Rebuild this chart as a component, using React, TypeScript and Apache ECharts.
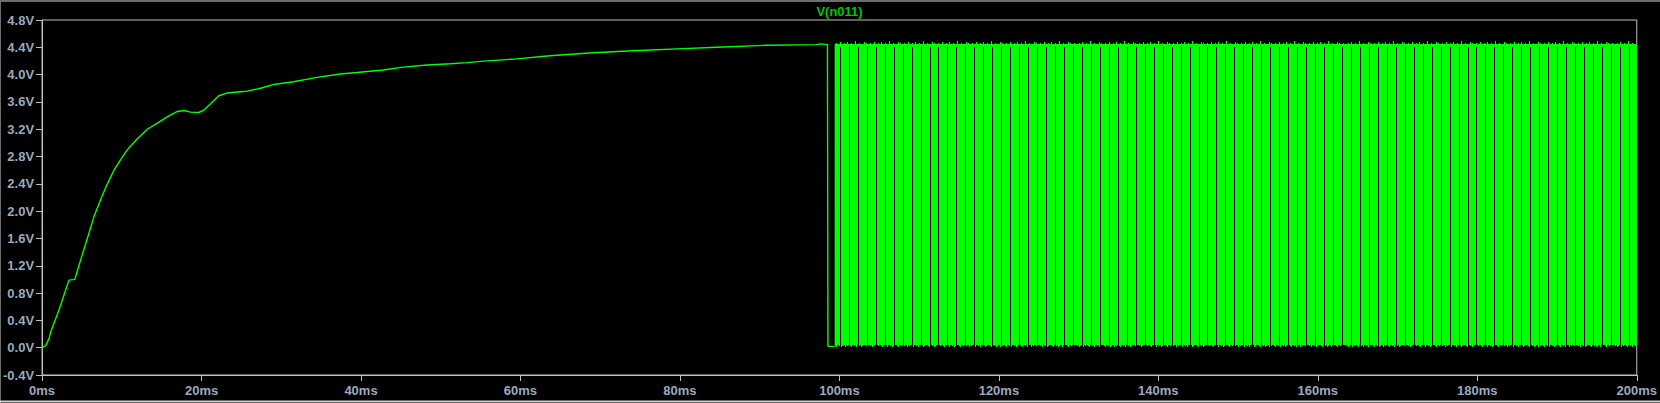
import React, { useEffect, useRef } from "react";
import * as echarts from "echarts";

// ---- data (time in ms, voltage in V) ----
const rampTime = [
  0, 0.46, 0.9, 1.09, 2.13, 2.97, 3.38, 4.1, 4.85, 5.89, 6.51, 7.35, 8.19, 9.02, 9.86, 10.4, 10.9,
  11.95, 13.2, 14.45, 15.7, 16.96, 17.8, 18.6, 19.66, 20.3, 21.1, 22.17, 23.2, 24.9, 25.7,
  27.4, 29.05, 31.55, 34.5, 37.4, 39.5, 42.8, 45.3, 48.3, 51.2, 53.3, 55.35, 59.5, 63.7,
  69.1, 74.1, 80.4, 84.6, 90.8, 97.1, 97.7, 98.5, 98.56, 99.4,
];
const rampVolts = [
  0.0, 0.03, 0.14, 0.235, 0.554, 0.85, 0.99, 1.0, 1.29, 1.68, 1.92, 2.17, 2.4, 2.6, 2.755, 2.85, 2.93,
  3.06, 3.2, 3.29, 3.38, 3.46, 3.475, 3.45, 3.445, 3.48, 3.57, 3.69, 3.73, 3.75, 3.758,
  3.8, 3.856, 3.896, 3.96, 4.01, 4.03, 4.067, 4.11, 4.14, 4.16, 4.175, 4.198, 4.23, 4.277,
  4.32, 4.35, 4.38, 4.4, 4.43, 4.44, 4.45, 4.44, 0.02, 0.02,
];
// switching region: signal toggles between low and high faster than the plot resolution
const switchTime = [99.4, 200];
const switchHighPeak = [4.52, 4.52];
const switchLow = 0.0;

const yTicks = { min: -0.4, max: 4.8, step: 0.4 };
const xTicks = { min: 0, max: 200, step: 20 };
const traceName = "V(n011)";

const GREEN = "#00ff00";
const LABEL = "#9da9bd";
const AXIS = "#c0c0c0";
const FONT = '"Liberation Sans", Arial, sans-serif';

// visual texture emulating the aliasing of the dense switching waveform
function makeSwitchTexture(): string {
  const W = 269;
  const H = 403;
  const c = document.createElement("canvas");
  c.width = W;
  c.height = H;
  const ctx = c.getContext("2d")!;
  const topJag = "0001002000100030001000020100010002";
  const botJag = "0102100201001200102001021000120";
  for (let x = 0; x < W; x++) {
    const top = 44 - Number(topJag[x % topJag.length]);
    const bot = 345 + Number(botJag[x % botJag.length]);
    ctx.fillStyle = GREEN;
    ctx.fillRect(x, top, 1, bot - top);
  }
  ctx.fillStyle = "#000";
  for (let k = 0; k < 30; k++) {
    const gx = Math.floor((33.33 + k * 8.967) % W);
    ctx.fillRect(gx, 47, 1, H - 47);
  }
  return c.toDataURL();
}

export default function App() {
  const ref = useRef<HTMLDivElement>(null);
  useEffect(() => {
    if (!ref.current) return;
    const chart = echarts.init(ref.current, undefined, { renderer: "svg" });
    const texture = makeSwitchTexture();
    const labelStyle = {
      color: LABEL,
      fontFamily: FONT,
      fontWeight: "bold" as const,
      fontSize: 13,
    };
    chart.setOption({
      animation: false,
      backgroundColor: "#000",
      grid: {
        left: 41,
        top: 20,
        right: 22,
        bottom: 28,
        show: true,
        borderColor: AXIS,
        borderWidth: 1,
        backgroundColor: "#000",
      },
      graphic: [
        {
          type: "text",
          x: 839.5,
          y: 11,
          style: {
            text: traceName,
            fill: "#00c800",
            font: `bold 13px ${FONT}`,
            align: "center",
            verticalAlign: "middle",
          },
        },
        { type: "line", shape: { x1: 0, y1: 1, x2: 1660, y2: 1 }, style: { stroke: "#6e6e6e", lineWidth: 2 } },
        { type: "line", shape: { x1: 0.5, y1: 0, x2: 0.5, y2: 403 }, style: { stroke: "#6e6e6e", lineWidth: 1 } },
        { type: "line", shape: { x1: 0, y1: 401.5, x2: 1660, y2: 401.5 }, style: { stroke: "#d0d0d0", lineWidth: 2 } },
      ],
      xAxis: {
        type: "value",
        min: xTicks.min,
        max: xTicks.max,
        interval: xTicks.step,
        axisLine: { onZero: false, lineStyle: { color: AXIS, width: 1 } },
        axisTick: { show: true, length: 6, lineStyle: { color: AXIS } },
        splitLine: { show: false },
        axisLabel: {
          ...labelStyle,
          margin: 9,
          showMinLabel: true,
          showMaxLabel: true,
          formatter: (v: number) => `${Math.round(v)}ms`,
        },
      },
      yAxis: {
        type: "value",
        min: yTicks.min,
        max: yTicks.max,
        interval: yTicks.step,
        axisLine: { show: true, onZero: false, lineStyle: { color: AXIS, width: 1 } },
        axisTick: { show: true, length: 6, lineStyle: { color: AXIS } },
        splitLine: { show: false },
        axisLabel: {
          ...labelStyle,
          margin: 8,
          showMinLabel: true,
          showMaxLabel: true,
          formatter: (v: number) => `${v.toFixed(1)}V`,
        },
      },
      series: [
        {
          type: "line",
          name: traceName,
          data: rampTime.map((t, i) => [t, rampVolts[i]]),
          showSymbol: false,
          symbol: "none",
          lineStyle: { color: GREEN, width: 1.4 },
          silent: true,
          z: 3,
        },
        {
          type: "line",
          name: traceName + " switching",
          data: switchTime.map((t, i) => [t, switchHighPeak[i]]),
          showSymbol: false,
          symbol: "none",
          lineStyle: { opacity: 0, width: 0 },
          areaStyle: {
            origin: switchLow,
            opacity: 1,
            color: {
              image: texture,
              repeat: "repeat",
              imageWidth: 269,
              imageHeight: 403,
            } as any,
          },
          silent: true,
          z: 2,
        },
      ],
    });
    return () => chart.dispose();
  }, []);
  return (
    <div
      ref={ref}
      style={{ position: "fixed", left: 0, top: 0, width: 1660, height: 403, background: "#000" }}
    />
  );
}
